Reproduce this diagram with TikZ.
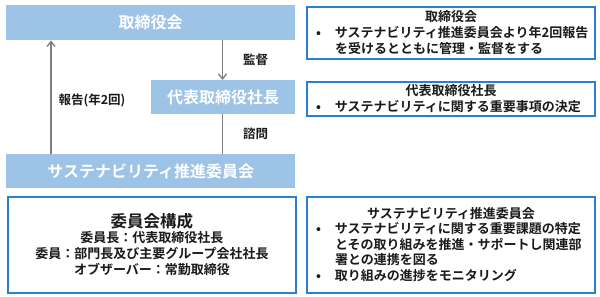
\documentclass[tikz,border=0pt]{standalone}
\usepackage{fontspec}
\setmainfont{Noto Sans CJK JP}[BoldFont={Noto Sans CJK JP Bold}]
\usetikzlibrary{arrows.meta}
\definecolor{barblue}{HTML}{9DC3E6}
\definecolor{edgeblue}{HTML}{2A7FD2}
\definecolor{arrgray}{HTML}{7F7F7F}
\definecolor{txt}{HTML}{1A1A1A}
\tikzset{
  bar/.style={fill=barblue, draw=none, text=white, inner sep=0pt, anchor=north west,
    font=\fontsize{16}{19}\selectfont\bfseries},
  infobox/.style={draw=edgeblue, line width=2pt, fill=white, inner sep=0pt, anchor=north west,
    text=txt, font=\fontsize{13}{16}\selectfont\bfseries},
  conn/.style={draw=arrgray, line width=1.4pt},
  arr/.style={conn, -{Straight Barb[length=5pt,width=8pt]}},
  lbl/.style={text=txt, font=\fontsize{12.5}{15}\selectfont\bfseries, inner sep=0pt},
}
\newcommand{\bul}{\makebox[19pt][l]{•}}
\newcommand{\ind}{\hspace*{19pt}}
\begin{document}
\begin{tikzpicture}[x=1pt,y=-1pt]
\useasboundingbox (0,0) rectangle (600,297);
% left column bars
\node[bar, minimum width=289pt, minimum height=35pt] (board) at (6,5) {取締役会};
\node[bar, minimum width=144pt, minimum height=34pt] (ceo) at (151,80) {代表取締役社長};
\node[bar, minimum width=289pt, minimum height=34pt] (comm) at (6,154) {サステナビリティ推進委員会};
\node[infobox, minimum width=288pt, minimum height=96pt, align=center] (comp) at (7,195.5)
  {{\fontsize{16.5}{19}\selectfont 委員会構成}\\[-1pt]
   委員長：代表取締役社長\\
   委員：部門長及び主要グループ会社社長\\
   オブザーバー：常勤取締役};
% connectors
\coordinate (lx) at (51,0);
\coordinate (rx) at (222.5,0);
\draw[arr] (comm.north -| lx) -- (board.south -| lx);
\draw[arr] (board.south -| rx) -- (ceo.north -| rx);
\draw[conn] (ceo.south -| rx) -- (comm.north -| rx);
\node[lbl] (l1) at (255.5,60) {監督};
\node[lbl] (l2) at (255.5,134) {諮問};
\node[lbl] (l3) at (92,100) {報告(年2回)};
% right boxes
\node[infobox, minimum width=288pt, minimum height=52pt] (r1) at (306,6)
  {\parbox{270pt}{\centering 取締役会\par\raggedright
   \bul サステナビリティ推進委員会より年2回報告\\
   \ind を受けるとともに管理・監督をする}};
\node[infobox, minimum width=288pt, minimum height=34pt] (r2) at (306,81)
  {\parbox{270pt}{\centering 代表取締役社長\par\raggedright
   \bul サステナビリティに関する重要事項の決定}};
\node[infobox, minimum width=288pt, minimum height=96pt] (r3) at (306,195.5)
  {\parbox{270pt}{\fontsize{13}{15.5}\selectfont\centering サステナビリティ推進委員会\par\raggedright
   \bul サステナビリティに関する重要課題の特定\\
   \ind とその取り組みを推進・サポートし関連部\\
   \ind 署との連携を図る\\
   \bul 取り組みの進捗をモニタリング}};
\end{tikzpicture}
\end{document}
